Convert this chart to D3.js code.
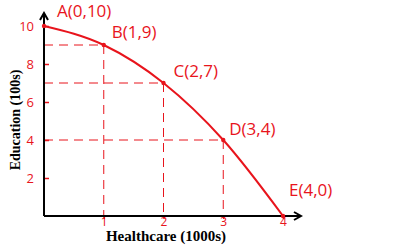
<!DOCTYPE html>
<html>
<head>
<meta charset="utf-8">
<script src="https://cdn.jsdelivr.net/npm/d3@7"></script>
<style>
  body { margin: 0; background: #fff; }
  svg { display: block; }
</style>
</head>
<body>
<svg width="400" height="245"></svg>
<script>
// chart data
const pointNames = ["A", "B", "C", "D", "E"];
const healthcare = [0, 1, 2, 3, 4];
const education = [10, 9, 7, 4, 0];
const xTicks = [1, 2, 3, 4];
const yTicks = [2, 4, 6, 8, 10];

const red = "#e8141c";
const svg = d3.select("svg");

const x = d3.scaleLinear().domain([0, 4]).range([44, 283]);
const y = d3.scaleLinear().domain([0, 10]).range([216, 26]);

const points = pointNames.map((n, i) => ({name: n, h: healthcare[i], e: education[i]}));

// dashed guides from each point to the axes
const inner = points.filter(d => d.h > 0 && d.e > 0);
svg.selectAll(".hguide").data(inner).join("line")
    .attr("x1", x(0)).attr("x2", d => x(d.h))
    .attr("y1", d => y(d.e)).attr("y2", d => y(d.e))
    .style("stroke", red).style("stroke-width", 1)
    .style("stroke-dasharray", "9,6");
svg.selectAll(".vguide").data(inner).join("line")
    .attr("x1", d => x(d.h)).attr("x2", d => x(d.h))
    .attr("y1", d => y(d.e)).attr("y2", y(0))
    .style("stroke", red).style("stroke-width", 1)
    .style("stroke-dasharray", "9,6");

// axes with red hand-style ticks
const xAxis = svg.append("g")
    .attr("transform", `translate(0,${y(0)})`)
    .call(d3.axisBottom(x).tickValues(xTicks).tickSize(3).tickPadding(0).tickFormat(d3.format("d")));
const yAxis = svg.append("g")
    .attr("transform", `translate(${x(0)},0)`)
    .call(d3.axisLeft(y).tickValues(yTicks).tickSize(-5).tickPadding(10).tickFormat(d3.format("d")));
[xAxis, yAxis].forEach(a => {
    a.select(".domain").remove();
    a.selectAll("line").style("stroke", red).style("stroke-width", 1.5);
    a.selectAll("text").style("fill", red)
        .style("font-family", "'Open Sans', sans-serif")
        .style("font-size", "13px");
});
xAxis.selectAll("text").attr("dy", "0.55em").style("font-size", "12px");

// black axis lines with arrow heads
svg.append("defs").append("marker")
    .attr("id", "arrow")
    .attr("viewBox", "0 0 10 10")
    .attr("refX", 8).attr("refY", 5)
    .attr("markerWidth", 5).attr("markerHeight", 5)
    .attr("orient", "auto")
    .append("path")
    .attr("d", "M1,1 L8,5 L1,9")
    .style("fill", "none").style("stroke", "#000").style("stroke-width", 2);

svg.append("line")
    .attr("x1", x(0)).attr("y1", y(0))
    .attr("x2", x(4) + 18).attr("y2", y(0))
    .style("stroke", "#000").style("stroke-width", 2)
    .attr("marker-end", "url(#arrow)");
svg.append("line")
    .attr("x1", x(0)).attr("y1", y(0))
    .attr("x2", x(0)).attr("y2", y(10) - 13)
    .style("stroke", "#000").style("stroke-width", 2)
    .attr("marker-end", "url(#arrow)");

// frontier curve
const line = d3.line()
    .x(d => x(d.h)).y(d => y(d.e))
    .curve(d3.curveMonotoneX);
svg.append("path")
    .datum(points)
    .attr("d", line)
    .style("fill", "none")
    .style("stroke", red)
    .style("stroke-width", 2);

svg.selectAll(".pt").data(points).join("circle")
    .attr("cx", d => x(d.h)).attr("cy", d => y(d.e))
    .attr("r", 2.2).style("fill", red);

// point labels
const labelOffset = {A: [13, -9], B: [8, -7], C: [10, -6], D: [6, -5], E: [6, -20]};
svg.selectAll(".plabel").data(points).join("text")
    .attr("x", d => x(d.h) + labelOffset[d.name][0])
    .attr("y", d => y(d.e) + labelOffset[d.name][1])
    .text(d => `${d.name}(${d.h},${d.e})`)
    .style("fill", red)
    .style("font-family", "'Open Sans', sans-serif")
    .style("font-size", "17px");

// axis titles
svg.append("text")
    .attr("x", 166).attr("y", 241)
    .attr("text-anchor", "middle")
    .style("font-family", "'Liberation Serif', serif")
    .style("font-weight", "bold")
    .style("font-size", "15px")
    .text("Healthcare (1000s)");
svg.append("text")
    .attr("transform", "translate(20,120) rotate(-90)")
    .attr("text-anchor", "middle")
    .style("font-family", "'Liberation Serif', serif")
    .style("font-weight", "bold")
    .style("font-size", "14px")
    .text("Education (100s)");
</script>
</body>
</html>
